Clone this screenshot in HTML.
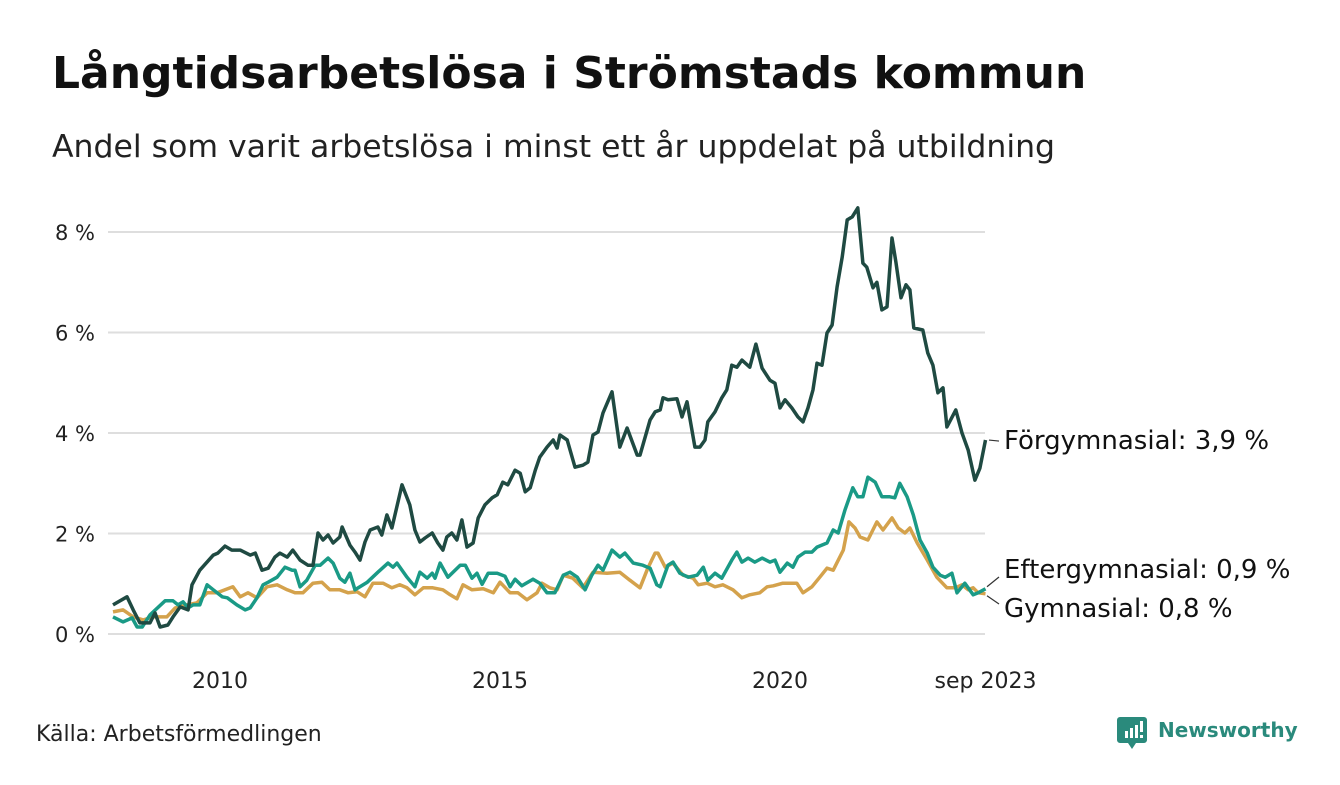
<!DOCTYPE html>
<html><head><meta charset="utf-8"><style>
body{margin:0;background:#fff;width:1340px;height:780px;overflow:hidden;font-family:"Liberation Sans","DejaVu Sans",sans-serif;}
svg text{font-family:"DejaVu Sans","Liberation Sans",sans-serif;}
</style></head><body>
<svg id="chart" width="1340" height="780">
<text x="52" y="88" font-size="44" font-weight="bold" fill="#111">Långtidsarbetslösa i Strömstads kommun</text>
<text x="52" y="157" font-size="31.5" fill="#222">Andel som varit arbetslösa i minst ett år uppdelat på utbildning</text>
<g id="grid"></g><g id="lines"></g><g id="labels"></g>
<text x="36" y="741" font-size="22" fill="#222">Källa: Arbetsförmedlingen</text>
<g>
<path d="M1120 717 h24 a3 3 0 0 1 3 3 v20 a3 3 0 0 1 -3 3 h-8 l-4 6 l-4 -6 h-8 a3 3 0 0 1 -3 -3 v-20 a3 3 0 0 1 3 -3z" fill="#2a8a7c"/>
<rect x="1125" y="731" width="3" height="7" fill="#fff"/><rect x="1130" y="728" width="3" height="10" fill="#fff"/><rect x="1135" y="725" width="3" height="13" fill="#fff"/><rect x="1140" y="721" width="3" height="11" fill="#fff"/><rect x="1140" y="735" width="3" height="3" fill="#fff"/>
<text x="1158" y="737" font-size="20" font-weight="bold" fill="#2a8a7c">Newsworthy</text>
</g>
</svg>
<script>
const yTicks=[0,2,4,6,8];
const xTickYears=[2010,2015,2020,2023.67];
const xTickLabels=["2010","2015","2020","sep 2023"];
const forgDates=[2008.09,2008.34,2008.45,2008.57,2008.75,2008.84,2008.93,2009.07,2009.16,2009.29,2009.43,2009.5,2009.64,2009.88,2009.96,2010.09,2010.21,2010.36,2010.54,2010.63,2010.75,2010.86,2010.98,2011.07,2011.2,2011.3,2011.43,2011.57,2011.66,2011.75,2011.84,2011.93,2012.02,2012.14,2012.18,2012.32,2012.41,2012.5,2012.59,2012.68,2012.82,2012.89,2012.98,2013.07,2013.25,2013.39,2013.48,2013.57,2013.66,2013.79,2013.89,2013.98,2014.05,2014.14,2014.23,2014.32,2014.41,2014.52,2014.61,2014.73,2014.86,2014.95,2015.05,2015.14,2015.27,2015.36,2015.45,2015.54,2015.63,2015.71,2015.84,2015.95,2016.02,2016.07,2016.2,2016.34,2016.48,2016.57,2016.66,2016.75,2016.84,2017.0,2017.14,2017.27,2017.45,2017.5,2017.68,2017.77,2017.86,2017.91,2018.0,2018.16,2018.25,2018.34,2018.48,2018.57,2018.66,2018.71,2018.84,2018.96,2019.05,2019.14,2019.23,2019.32,2019.46,2019.57,2019.68,2019.82,2019.91,2020.0,2020.09,2020.21,2020.32,2020.41,2020.5,2020.59,2020.66,2020.75,2020.84,2020.93,2021.02,2021.11,2021.2,2021.29,2021.39,2021.48,2021.55,2021.66,2021.73,2021.82,2021.91,2022.0,2022.07,2022.16,2022.25,2022.32,2022.39,2022.55,2022.64,2022.73,2022.82,2022.91,2022.98,2023.14,2023.25,2023.36,2023.48,2023.57,2023.67];
const forgValues=[0.58,0.74,0.48,0.22,0.22,0.42,0.14,0.18,0.34,0.54,0.48,0.98,1.27,1.57,1.61,1.75,1.67,1.67,1.57,1.61,1.27,1.31,1.53,1.61,1.53,1.67,1.47,1.37,1.37,2.01,1.87,1.97,1.81,1.93,2.13,1.77,1.63,1.47,1.83,2.07,2.13,1.97,2.37,2.11,2.97,2.57,2.07,1.83,1.91,2.01,1.81,1.67,1.93,2.01,1.87,2.27,1.73,1.81,2.31,2.57,2.71,2.77,3.02,2.97,3.26,3.2,2.83,2.91,3.26,3.52,3.72,3.86,3.7,3.96,3.86,3.32,3.36,3.42,3.96,4.02,4.4,4.82,3.72,4.1,3.56,3.56,4.26,4.42,4.46,4.7,4.66,4.68,4.32,4.62,3.72,3.72,3.86,4.22,4.42,4.7,4.86,5.35,5.31,5.45,5.31,5.77,5.29,5.05,4.99,4.5,4.66,4.5,4.32,4.22,4.5,4.86,5.39,5.35,5.99,6.15,6.91,7.5,8.24,8.3,8.48,7.38,7.3,6.89,7.0,6.45,6.51,7.88,7.4,6.69,6.95,6.85,6.09,6.05,5.59,5.35,4.8,4.9,4.12,4.46,4.0,3.66,3.06,3.3,3.86];
const efterDates=[2008.09,2008.27,2008.43,2008.52,2008.61,2008.75,2009.02,2009.16,2009.25,2009.34,2009.43,2009.52,2009.64,2009.77,2009.88,2010.04,2010.13,2010.3,2010.45,2010.54,2010.66,2010.77,2010.86,2011.02,2011.16,2011.29,2011.34,2011.43,2011.55,2011.7,2011.79,2011.93,2012.02,2012.14,2012.23,2012.32,2012.41,2012.63,2012.82,2013.0,2013.09,2013.16,2013.34,2013.48,2013.57,2013.7,2013.79,2013.84,2013.93,2014.07,2014.29,2014.38,2014.5,2014.59,2014.68,2014.79,2014.95,2015.09,2015.18,2015.27,2015.39,2015.59,2015.71,2015.84,2015.98,2016.13,2016.25,2016.38,2016.52,2016.64,2016.75,2016.84,2017.0,2017.14,2017.23,2017.38,2017.55,2017.68,2017.8,2017.86,2018.0,2018.09,2018.21,2018.36,2018.52,2018.63,2018.71,2018.84,2018.96,2019.14,2019.23,2019.32,2019.43,2019.55,2019.68,2019.82,2019.91,2020.0,2020.13,2020.23,2020.32,2020.45,2020.57,2020.66,2020.84,2020.95,2021.04,2021.16,2021.3,2021.39,2021.48,2021.57,2021.7,2021.82,2021.96,2022.05,2022.14,2022.27,2022.38,2022.5,2022.63,2022.73,2022.86,2022.95,2023.07,2023.16,2023.3,2023.45,2023.54,2023.67];
const efterValues=[0.34,0.24,0.32,0.14,0.14,0.38,0.66,0.66,0.58,0.64,0.52,0.58,0.58,0.98,0.88,0.74,0.72,0.58,0.48,0.52,0.72,0.98,1.03,1.13,1.33,1.27,1.27,0.94,1.07,1.37,1.37,1.51,1.41,1.11,1.03,1.21,0.88,1.03,1.23,1.41,1.33,1.41,1.13,0.94,1.23,1.11,1.21,1.11,1.41,1.13,1.37,1.37,1.11,1.21,0.99,1.21,1.21,1.15,0.94,1.09,0.96,1.09,1.01,0.82,0.82,1.17,1.23,1.13,0.88,1.17,1.37,1.27,1.67,1.53,1.61,1.41,1.37,1.31,0.98,0.94,1.37,1.43,1.21,1.13,1.17,1.33,1.07,1.21,1.11,1.47,1.63,1.43,1.51,1.43,1.51,1.43,1.47,1.23,1.41,1.33,1.53,1.63,1.63,1.73,1.81,2.07,2.01,2.47,2.91,2.73,2.73,3.12,3.02,2.73,2.73,2.71,3.0,2.73,2.37,1.87,1.61,1.33,1.17,1.13,1.21,0.82,1.01,0.78,0.82,0.9];
const gymDates=[2008.09,2008.27,2008.45,2008.63,2008.8,2009.05,2009.2,2009.41,2009.59,2009.77,2009.95,2010.09,2010.23,2010.36,2010.5,2010.66,2010.84,2011.02,2011.2,2011.34,2011.48,2011.66,2011.82,2011.96,2012.14,2012.29,2012.45,2012.59,2012.73,2012.91,2013.07,2013.21,2013.34,2013.48,2013.63,2013.8,2013.98,2014.11,2014.23,2014.34,2014.5,2014.7,2014.88,2015.0,2015.18,2015.32,2015.48,2015.66,2015.75,2015.89,2016.02,2016.13,2016.3,2016.48,2016.66,2016.91,2017.14,2017.32,2017.5,2017.64,2017.77,2017.82,2017.95,2018.09,2018.27,2018.45,2018.54,2018.7,2018.84,2018.98,2019.16,2019.32,2019.46,2019.64,2019.77,2019.88,2020.05,2020.3,2020.41,2020.57,2020.71,2020.84,2020.95,2021.13,2021.23,2021.34,2021.43,2021.57,2021.73,2021.84,2022.0,2022.11,2022.23,2022.32,2022.45,2022.63,2022.8,2022.98,2023.13,2023.25,2023.36,2023.45,2023.54,2023.67];
const gymValues=[0.44,0.48,0.34,0.28,0.34,0.34,0.52,0.58,0.62,0.82,0.82,0.88,0.94,0.74,0.82,0.72,0.94,0.98,0.88,0.82,0.82,1.01,1.03,0.88,0.88,0.82,0.84,0.74,1.01,1.01,0.92,0.98,0.92,0.78,0.92,0.92,0.88,0.78,0.7,0.98,0.88,0.9,0.82,1.03,0.82,0.82,0.68,0.82,1.01,0.92,0.88,1.17,1.11,0.92,1.23,1.21,1.23,1.07,0.92,1.31,1.61,1.61,1.33,1.41,1.17,1.11,0.98,1.01,0.94,0.98,0.88,0.72,0.78,0.82,0.94,0.96,1.01,1.01,0.82,0.94,1.13,1.31,1.27,1.67,2.23,2.11,1.93,1.87,2.23,2.07,2.31,2.11,2.01,2.11,1.81,1.47,1.13,0.92,0.92,0.98,0.88,0.92,0.82,0.8];

const NS="http://www.w3.org/2000/svg";
const PXY=56, Y0=634, PXP=50.25;
const xs=d=>220+(d-2010)*PXY;
const ys=v=>Y0-v*PXP;
function mk(tag,attrs,parent){const e=document.createElementNS(NS,tag);for(const k in attrs)e.setAttribute(k,attrs[k]);parent.appendChild(e);return e;}
const grid=document.getElementById('grid');
yTicks.forEach(t=>{
  const l=mk('line',{x1:108,x2:985,y1:ys(t),y2:ys(t),stroke:'#dedede','stroke-width':2},grid);
  
  
  const tx=mk('text',{x:95,y:ys(t)+8,'font-size':21,fill:'#222','text-anchor':'end'},grid);
  tx.textContent=t+' %';
  
  
});
xTickYears.forEach((d,i)=>{
  const tx=mk('text',{x:xs(d),y:688,'font-size':22,fill:'#222','text-anchor':'middle'},grid);
  tx.textContent=xTickLabels[i];
  
  
});
const lines=document.getElementById('lines');
function series(dates,vals,color,name){
  const p=mk('path',{d:dates.map((d,i)=>(i?'L':'M')+xs(d).toFixed(1)+' '+ys(vals[i]).toFixed(1)).join(' '),fill:'none',stroke:color,'stroke-width':3.5,'stroke-linejoin':'round'},lines);
  
  
}
series(gymDates,gymValues,'#d4a24c','line-gymnasial');
series(efterDates,efterValues,'#1a9a86','line-eftergymnasial');
series(forgDates,forgValues,'#1f4a42','line-forgymnasial');
const lab=document.getElementById('labels');
function label(txt,y,x1,y1,x2,y2,name){
  const l=mk('line',{x1:x1,y1:y1,x2:x2,y2:y2,stroke:'#333','stroke-width':1.2},lab);
  
  
  const t=mk('text',{x:1004,y:y,'font-size':26,fill:'#111'},lab);
  t.textContent=txt;
  
  
}
const lastF=forgValues[forgValues.length-1],lastE=efterValues[efterValues.length-1],lastG=gymValues[gymValues.length-1];
label('Förgymnasial: 3,9 %',449,989,ys(lastF),999,ys(lastF)+1,'label-forgymnasial');
label('Eftergymnasial: 0,9 %',578,987,ys(lastE)-2,999,577,'label-eftergymnasial');
label('Gymnasial: 0,8 %',617,987,ys(lastG)+2,999,604,'label-gymnasial');
</script>
</body></html>
